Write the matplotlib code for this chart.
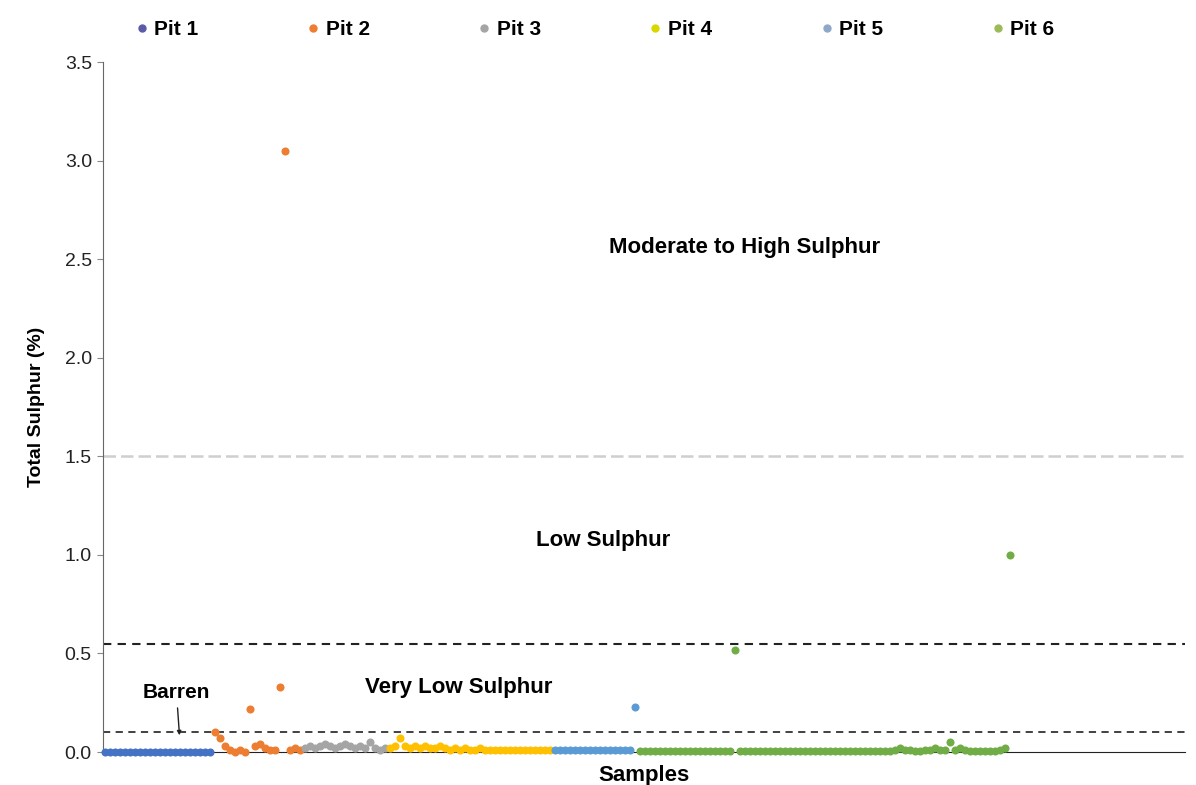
import matplotlib.pyplot as plt
from matplotlib.lines import Line2D

plt.rcParams['font.family'] = ['Liberation Sans', 'DejaVu Sans']

# Total sulphur (%) per sample, in sample order, one list per pit
pit1 = [0.0, 0.0, 0.0, 0.0, 0.0, 0.0, 0.0, 0.0, 0.0, 0.0, 0.0,
        0.0, 0.0, 0.0, 0.0, 0.0, 0.0, 0.0, 0.0, 0.0, 0.0, 0.0]
pit2 = [0.10, 0.07, 0.03, 0.01, 0.0, 0.01, 0.0, 0.22, 0.03, 0.04,
        0.02, 0.01, 0.01, 0.33, 3.05, 0.01, 0.02, 0.01]
pit3 = [0.02, 0.03, 0.02, 0.03, 0.04, 0.03, 0.02, 0.03, 0.04, 0.03,
        0.02, 0.03, 0.02, 0.05, 0.02, 0.01, 0.02]
pit4 = [0.02, 0.03, 0.07, 0.03, 0.02, 0.03, 0.02, 0.03, 0.02, 0.02,
        0.03, 0.02, 0.01, 0.02, 0.01, 0.02, 0.01, 0.01, 0.02, 0.01,
        0.01, 0.01, 0.01, 0.01, 0.01, 0.01, 0.01, 0.01, 0.01, 0.01,
        0.01, 0.01, 0.01]
pit5 = [0.01, 0.01, 0.01, 0.01, 0.01, 0.01, 0.01, 0.01, 0.01, 0.01,
        0.01, 0.01, 0.01, 0.01, 0.01, 0.01, 0.23]
pit6 = [0.005, 0.005, 0.005, 0.005, 0.005, 0.005, 0.005, 0.005, 0.005, 0.005,
        0.005, 0.005, 0.005, 0.005, 0.005, 0.005, 0.005, 0.005, 0.005, 0.52,
        0.005, 0.005, 0.005, 0.005, 0.005, 0.005, 0.005, 0.005, 0.005, 0.005,
        0.005, 0.005, 0.005, 0.005, 0.005, 0.005, 0.005, 0.005, 0.005, 0.005,
        0.005, 0.005, 0.005, 0.005, 0.005, 0.005, 0.005, 0.005, 0.005, 0.005,
        0.005, 0.01, 0.02, 0.01, 0.01, 0.005, 0.005, 0.01, 0.01, 0.02,
        0.01, 0.01, 0.05, 0.01, 0.02, 0.01, 0.005, 0.005, 0.005, 0.005,
        0.005, 0.005, 0.01, 0.02, 1.0]

pits = [pit1, pit2, pit3, pit4, pit5, pit6]
labels = ["Pit 1", "Pit 2", "Pit 3", "Pit 4", "Pit 5", "Pit 6"]
colors = ["#4472C4", "#ED7D31", "#A5A5A5", "#FFC000", "#5B9BD5", "#70AD47"]
legend_colors = ["#5B5BA8", "#ED7D31", "#A5A5A5", "#D8D800", "#8EA9C8", "#9BBB59"]

# class boundaries (% S)
thresholds = [0.1, 0.55, 1.5]

fig = plt.figure(figsize=(11.96, 7.85), dpi=100)
ax = fig.add_axes([0.0861, 0.042, 0.9047, 0.879])

start = 0
for vals, c in zip(pits, colors):
    xs = list(range(start, start + len(vals)))
    ax.plot(xs, vals, linestyle="none", marker="o", markersize=5.8,
            color=c, markeredgewidth=0, clip_on=False, zorder=3)
    start += len(vals)

ax.axhline(thresholds[0], color="#333333", linestyle=(0, (4, 3)), lw=1.3)
ax.axhline(thresholds[1], color="#222222", linestyle=(0, (4, 3)), lw=1.5)
ax.axhline(thresholds[2], color="#cfcfcf", linestyle=(0, (5, 2)), lw=1.8)

ax.text(0.592 * 215.9, 2.56, "Moderate to High Sulphur", ha="center", va="center",
        fontsize=16, fontweight="bold")
ax.text(0.461 * 215.9, 1.075, "Low Sulphur", ha="center", va="center",
        fontsize=16, fontweight="bold")
ax.text(0.3276 * 215.9, 0.325, "Very Low Sulphur", ha="center", va="center",
        fontsize=16, fontweight="bold")
ax.annotate("Barren", xy=(14.8, 0.085), xytext=(14.2, 0.30), ha="center", va="center",
            fontsize=15, fontweight="bold",
            arrowprops=dict(arrowstyle="-|>", mutation_scale=6, color="#222222",
                            lw=1, shrinkA=2, shrinkB=0))

ax.set_xlim(-0.5, 215.9)
ax.set_ylim(0, 3.5)
ax.set_yticks([0.0, 0.5, 1.0, 1.5, 2.0, 2.5, 3.0, 3.5])
ax.set_yticklabels(["0.0", "0.5", "1.0", "1.5", "2.0", "2.5", "3.0", "3.5"])
ax.set_xticks([])
ax.tick_params(axis="y", labelsize=14, length=4, pad=4, color="#888888",
               labelcolor="#222222")
ax.spines["top"].set_visible(False)
ax.spines["right"].set_visible(False)
ax.spines["left"].set_color("#666666")
ax.spines["bottom"].set_color("#222222")
ax.set_ylabel("Total Sulphur (%)", fontsize=14, fontweight="bold", labelpad=14)
ax.set_xlabel("Samples", fontsize=16, fontweight="bold", labelpad=9)

handles = [Line2D([], [], linestyle="none", marker="o", markersize=5, color=c)
           for c in legend_colors]
fig.legend(handles, labels, loc="center", bbox_to_anchor=(0.4975, 0.962), ncol=6,
           frameon=False, handlelength=0.6, handletextpad=0.3, columnspacing=5.2,
           prop={"weight": "bold", "size": 15})

fig.savefig("out.png", dpi=100)
